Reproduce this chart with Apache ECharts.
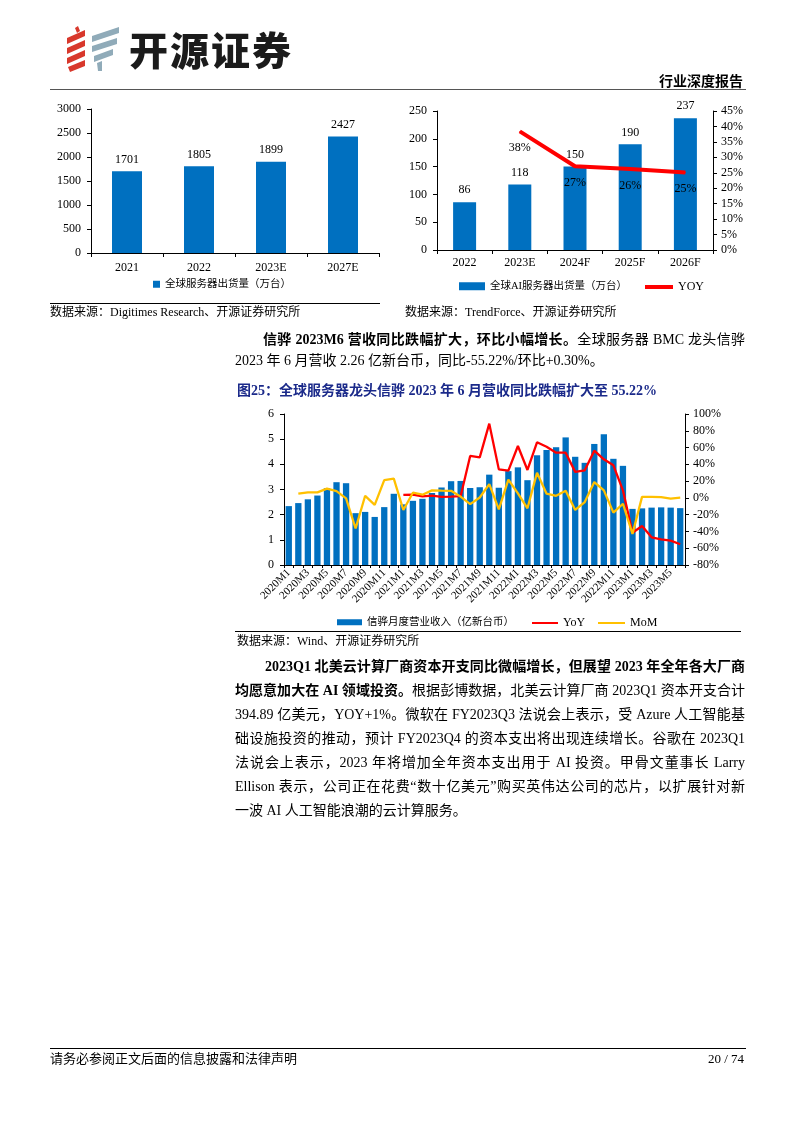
<!DOCTYPE html>
<html>
<head>
<meta charset="utf-8">
<script src="https://cdn.jsdelivr.net/npm/echarts/dist/echarts.min.js"></script>
<style>
html,body{margin:0;padding:0;background:#fff;}
#page{position:relative;width:794px;height:1123px;overflow:hidden;background:#fff;}
#chart{position:absolute;left:0;top:0;width:794px;height:1123px;}
.t{position:absolute;font-family:"Liberation Serif","Noto Sans CJK SC",serif;color:#000;white-space:nowrap;}
.j{position:absolute;font-family:"Liberation Serif","Noto Sans CJK SC",serif;color:#000;font-size:14px;line-height:20px;height:20px;text-align:justify;text-align-last:justify;}
.b{font-weight:bold;}
.hr{position:absolute;height:0;}
</style>
</head>
<body>
<div id="page">
<div id="chart"></div>

<!-- header -->
<svg style="position:absolute;left:65px;top:25px" width="60" height="50" viewBox="0 0 60 50">
  <g fill="#D8382C">
    <polygon points="10,3 13,1 15,6 12,8"/>
    <polygon points="2,13 20,5 20,11 2,19"/>
    <polygon points="2,23 20,15 20,21 2,29"/>
    <polygon points="2,33 20,25 20,31 2,39"/>
    <polygon points="3,42 20,35 20,41 5,47"/>
  </g>
  <g fill="#90ABB9">
    <polygon points="27,11 54,2 54,8 27,17"/>
    <polygon points="27,21 52,13 52,19 27,27"/>
    <polygon points="29,31 48,24 48,30 29,37"/>
    <polygon points="32,38 37,36 37,46 33,46"/>
  </g>
</svg>
<div class="t" style="left:129px;top:24px;font-family:'Noto Sans CJK SC';font-weight:900;font-size:39px;line-height:48px;color:#1b1b1b;letter-spacing:2px;">开源证券</div>
<div class="t b" style="right:51px;top:70px;font-family:'Noto Sans CJK SC';font-size:14px;line-height:20px;">行业深度报告</div>
<div class="hr" style="left:50px;top:89px;width:696px;border-top:1.5px solid #555;"></div>

<!-- sources -->
<div class="hr" style="left:50px;top:303px;width:330px;border-top:1px solid #000;"></div>
<div class="t" style="left:50px;top:304px;font-size:12px;line-height:16px;">数据来源：Digitimes Research、开源证券研究所</div>
<div class="t" style="left:405px;top:304px;font-size:12px;line-height:16px;">数据来源：TrendForce、开源证券研究所</div>

<!-- paragraph 1 -->
<div class="j" style="left:263px;top:330px;width:482px;"><span class="b">信骅 2023M6 营收同比跌幅扩大，环比小幅增长。</span>全球服务器 BMC 龙头信骅</div>
<div class="t" style="left:235px;top:351px;font-size:14px;line-height:20px;">2023 年 6 月营收 2.26 亿新台币，同比-55.22%/环比+0.30%。</div>

<!-- figure title -->
<div class="t b" style="left:237px;top:381px;font-size:14px;line-height:20px;color:#1B2A8A;">图25：全球服务器龙头信骅 2023 年 6 月营收同比跌幅扩大至 55.22%</div>

<div class="hr" style="left:235px;top:631px;width:506px;border-top:1px solid #000;"></div>
<div class="t" style="left:237px;top:633px;font-size:12px;line-height:16px;">数据来源：Wind、开源证券研究所</div>

<!-- paragraph 2 -->
<div class="j b" style="left:265px;top:657px;width:480px;">2023Q1 北美云计算厂商资本开支同比微幅增长，但展望 2023 年全年各大厂商</div>
<div class="j" style="left:235px;top:681px;width:510px;"><span class="b">均愿意加大在 AI 领域投资。</span>根据彭博数据，北美云计算厂商 2023Q1 资本开支合计</div>
<div class="j" style="left:235px;top:705px;width:510px;">394.89 亿美元，YOY+1%。微软在 FY2023Q3 法说会上表示，受 Azure 人工智能基</div>
<div class="j" style="left:235px;top:729px;width:510px;">础设施投资的推动，预计 FY2023Q4 的资本支出将出现连续增长。谷歌在 2023Q1</div>
<div class="j" style="left:235px;top:753px;width:510px;">法说会上表示，2023 年将增加全年资本支出用于 AI 投资。甲骨文董事长 Larry</div>
<div class="j" style="left:235px;top:777px;width:510px;">Ellison 表示，公司正在花费“数十亿美元”购买英伟达公司的芯片，以扩展针对新</div>
<div class="t" style="left:235px;top:801px;font-size:14px;line-height:20px;">一波 AI 人工智能浪潮的云计算服务。</div>

<!-- footer -->
<div class="hr" style="left:50px;top:1048px;width:696px;border-top:1px solid #000;"></div>
<div class="t" style="left:50px;top:1050px;font-size:13px;line-height:18px;">请务必参阅正文后面的信息披露和法律声明</div>
<div class="t" style="right:50px;top:1050px;font-size:13px;line-height:18px;">20 / 74</div>
</div>

<script>
// ---- Chart 1: global server shipments ----
const c1Cats = ['2021', '2022', '2023E', '2027E'];
const c1Ship = [1701, 1805, 1899, 2427];

// ---- Chart 2: global AI server shipments ----
const c2Cats = ['2022', '2023E', '2024F', '2025F', '2026F'];
const c2Ship = [86, 118, 150, 190, 237];
const c2Yoy = [null, 38.4, 27.1, 26.2, 25.1];

// ---- Chart 3: ASPEED monthly revenue ----
const c3Cats = [
  '2020M1','2020M2','2020M3','2020M4','2020M5','2020M6','2020M7','2020M8','2020M9','2020M10','2020M11','2020M12',
  '2021M1','2021M2','2021M3','2021M4','2021M5','2021M6','2021M7','2021M8','2021M9','2021M10','2021M11','2021M12',
  '2022M1','2022M2','2022M3','2022M4','2022M5','2022M6','2022M7','2022M8','2022M9','2022M10','2022M11','2022M12',
  '2023M1','2023M2','2023M3','2023M4','2023M5','2023M6'
];
const c3Rev = [
  2.34, 2.46, 2.61, 2.76, 3.05, 3.29, 3.25, 2.06, 2.11, 1.91, 2.30, 2.83,
  2.41, 2.55, 2.63, 2.86, 3.08, 3.33, 3.34, 3.06, 3.09, 3.59, 3.07, 3.73,
  3.88, 3.37, 4.36, 4.57, 4.68, 5.07, 4.30, 4.06, 4.81, 5.20, 4.22, 3.94,
  2.23, 2.25, 2.28, 2.29, 2.28, 2.26
];
const c3Yoy = [
  null, null, null, null, null, null, null, null, null, null, null, null,
  3.5, 3.9, 1.8, 2.6, 1.3, 1.5, 2.0, 50.0, 48.3, 88.5, 34.0, 32.4,
  61.9, 33.3, 66.3, 61.0, 53.9, 53.9, 31.0, 32.9, 56.3, 46.0, 38.8, 9.0,
  -41.5, -33.5, -47.0, -49.4, -51.0, -55.22
];
const c3Mom = [
  null, 5.0, 6.6, 6.6, 11.0, 8.0, -0.5, -36.5, 2.5, -8.3, 21.2, 23.0,
  -14.4, 6.2, 3.8, 9.0, 8.6, 8.4, 1.5, -7.5, 0.5, 16.5, -13.6, 21.8,
  5.4, -12.4, 30.0, 5.0, 2.5, 8.6, -14.4, -5.0, 18.8, 9.0, -17.6, -7.0,
  -43.0, 1.2, 1.2, 0.8, -0.8, 0.3
];

const FONT = '"Liberation Serif","Noto Sans CJK SC",serif';
const BLUE = '#0070C0';
const axisLine = { show: true, lineStyle: { color: '#000', width: 1 } };
const tick = { show: true, length: 4, lineStyle: { color: '#000' } };
const lab = (extra) => Object.assign({ color: '#000', fontFamily: FONT, fontSize: 12 }, extra || {});
const plain = (v) => String(v);
const pct = (v) => String(v) + '%';
const legText = { color: '#000', fontFamily: FONT, fontSize: 10.5 };

const chart = echarts.init(document.getElementById('chart'), null, { renderer: 'canvas' });
chart.setOption({
  animation: false,
  backgroundColor: 'transparent',
  grid: [
    { left: 91, top: 109, width: 288, height: 144 },
    { left: 437, top: 111, width: 276, height: 139 },
    { left: 284, top: 414, width: 401, height: 151 }
  ],
  xAxis: [
    { gridIndex: 0, type: 'category', data: c1Cats, axisLine, axisTick: tick,
      axisLabel: lab({ margin: 9 }) },
    { gridIndex: 1, type: 'category', data: c2Cats, axisLine, axisTick: tick,
      axisLabel: lab({ margin: 7 }) },
    { gridIndex: 2, type: 'category', data: c3Cats, axisLine,
      axisTick: { show: true, length: 3, interval: 0, lineStyle: { color: '#000' } },
      axisLabel: lab({ fontSize: 11, rotate: 45, interval: 1, margin: 6 }) }
  ],
  yAxis: [
    { gridIndex: 0, type: 'value', min: 0, max: 3000, interval: 500, axisLine, axisTick: tick,
      splitLine: { show: false }, axisLabel: lab({ margin: 10, formatter: plain }) },
    { gridIndex: 1, type: 'value', min: 0, max: 250, interval: 50, axisLine, axisTick: tick,
      splitLine: { show: false }, axisLabel: lab({ margin: 10, formatter: plain }) },
    { gridIndex: 1, type: 'value', position: 'right', min: 0, max: 45, interval: 5, axisLine, axisTick: tick,
      splitLine: { show: false }, axisLabel: lab({ margin: 8, formatter: pct }) },
    { gridIndex: 2, type: 'value', min: 0, max: 6, interval: 1, axisLine, axisTick: tick,
      splitLine: { show: false }, axisLabel: lab({ margin: 10, formatter: plain }) },
    { gridIndex: 2, type: 'value', position: 'right', min: -80, max: 100, interval: 20, axisLine, axisTick: tick,
      splitLine: { show: false }, axisLabel: lab({ margin: 8, formatter: pct }) }
  ],
  legend: [
    { data: ['全球服务器出货量（万台）'], left: 153, top: 279, padding: 0, icon: 'rect', itemWidth: 7, itemHeight: 7, textStyle: legText },
    { data: ['全球AI服务器出货量（万台）'], left: 459, top: 281, padding: 0, icon: 'rect', itemWidth: 26, itemHeight: 8, textStyle: legText },
    { data: ['YOY'], left: 645, top: 281, padding: 0, icon: 'rect', itemWidth: 28, itemHeight: 4, textStyle: Object.assign({}, legText, { fontSize: 12 }) },
    { data: ['信骅月度营业收入（亿新台币）'], left: 337, top: 617, padding: 0, icon: 'rect', itemWidth: 25, itemHeight: 6, textStyle: legText },
    { data: ['YoY'], left: 532, top: 617, padding: 0, icon: 'rect', itemWidth: 26, itemHeight: 2, textStyle: Object.assign({}, legText, { fontSize: 12 }) },
    { data: ['MoM'], left: 598, top: 617, padding: 0, icon: 'rect', itemWidth: 27, itemHeight: 2, textStyle: Object.assign({}, legText, { fontSize: 12 }) }
  ],
  series: [
    { name: '全球服务器出货量（万台）', type: 'bar', xAxisIndex: 0, yAxisIndex: 0, data: c1Ship,
      barWidth: 30, itemStyle: { color: BLUE },
      label: { show: true, position: 'top', distance: 6, color: '#000', fontFamily: FONT, fontSize: 12 } },
    { name: '全球AI服务器出货量（万台）', type: 'bar', xAxisIndex: 1, yAxisIndex: 1, data: c2Ship,
      barWidth: 23, itemStyle: { color: BLUE },
      label: { show: true, position: 'top', distance: 6, color: '#000', fontFamily: FONT, fontSize: 12 } },
    { name: 'YOY', type: 'line', xAxisIndex: 1, yAxisIndex: 2, data: c2Yoy,
      symbol: 'circle', symbolSize: 1, showSymbol: true,
      lineStyle: { color: '#FF0000', width: 4 }, itemStyle: { color: '#FF0000' },
      label: { show: true, position: 'bottom', distance: 10, color: '#000', fontFamily: FONT, fontSize: 12,
        formatter: (p) => Math.round(p.value) + '%' } },
    { name: '信骅月度营业收入（亿新台币）', type: 'bar', xAxisIndex: 2, yAxisIndex: 3, data: c3Rev,
      barWidth: '66%', itemStyle: { color: BLUE } },
    { name: 'YoY', type: 'line', xAxisIndex: 2, yAxisIndex: 4, data: c3Yoy, symbol: 'none',
      lineStyle: { color: '#FF0000', width: 2.3 }, itemStyle: { color: '#FF0000' } },
    { name: 'MoM', type: 'line', xAxisIndex: 2, yAxisIndex: 4, data: c3Mom, symbol: 'none',
      lineStyle: { color: '#FFC000', width: 2.3 }, itemStyle: { color: '#FFC000' } }
  ]
});
</script>
</body>
</html>
